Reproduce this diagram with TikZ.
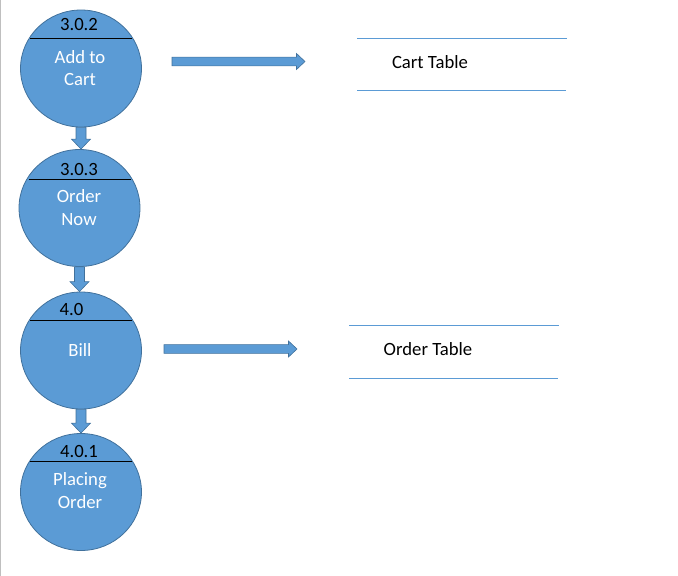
\documentclass[tikz,border=0pt]{standalone}
\usepackage{fontspec}
\setmainfont{Carlito}
\usetikzlibrary{shapes.geometric,calc}
\definecolor{procfill}{HTML}{5B9BD5}
\definecolor{procline}{HTML}{41719C}
\newcommand\dfdDown[2]{%
  \filldraw[blockarrow] ($(#1.south)+(-5,0)$) -- ($(#1.south |- #2.north)+(-5,-10)$) -- ($(#1.south |- #2.north)+(-9.5,-10)$) -- (#1.south |- #2.north) -- ($(#1.south |- #2.north)+(9.5,-10)$) -- ($(#1.south |- #2.north)+(5,-10)$) -- ($(#1.south)+(5,0)$) -- cycle;}
\newcommand\dfdRight[2]{%
  \filldraw[blockarrow] ($(#1)+(0,-4.4)$) -- ($(#2)+(-8.5,-4.4)$) -- ($(#2)+(-8.5,-8)$) -- (#2) -- ($(#2)+(-8.5,8)$) -- ($(#2)+(-8.5,4.4)$) -- ($(#1)+(0,4.4)$) -- cycle;}
\begin{document}
\begin{tikzpicture}[x=1pt,y=-1pt,
  proc/.style={ellipse,fill=procfill,draw=procline,line width=0.8pt,minimum width=121pt,minimum height=117pt,inner sep=0pt},
  ptext/.style={text=white,font=\fontsize{18.7}{22.7}\selectfont,align=center,inner sep=0pt},
  pid/.style={text=black,font=\fontsize{18.7}{22.7}\selectfont,anchor=base,inner sep=0pt},
  divider/.style={black,line width=1pt},
  blockarrow/.style={fill=procfill,draw=procline,line width=0.6pt},
  storeline/.style={draw=procfill,line width=0.8pt},
  stext/.style={font=\fontsize{18.7}{22.7}\selectfont,anchor=base,inner sep=0pt}]
\useasboundingbox (0,0) rectangle (678,576);
\draw[black!25,line width=1pt] (0.5,0) -- (0.5,576);

% processes
\node[proc] (add) at (81,68.5) {};
\node[proc] (order) at (79.5,208) {};
\node[proc] (bill) at (81,350.5) {};
\node[proc] (place) at (81,492) {};

\draw[divider] ($(add.center)+(-51,-30)$) -- ($(add.center)+(51,-30)$);
\draw[divider] ($(order.center)+(-51,-28.7)$) -- ($(order.center)+(51,-28.7)$);
\draw[divider] ($(bill.center)+(-51,-30)$) -- ($(bill.center)+(51,-30)$);
\draw[divider] ($(place.center)+(-51,-31)$) -- ($(place.center)+(51,-31)$);

\node[pid] (addid) at (79,30.7) {3.0.2};
\node[ptext] (addtx) at (80,68) {Add to\\Cart};
\node[pid] (orderid) at (79,175) {3.0.3};
\node[ptext] (ordertx) at (79,207.5) {Order\\Now};
\node[pid] (billid) at (71.5,315.7) {4.0};
\node[pid,text=white] (billtx) at (80,356.7) {Bill};
\node[pid] (placeid) at (79,457.7) {4.0.1};
\node[ptext] (placetx) at (80,490.5) {Placing\\Order};

% flow arrows
\dfdDown{add}{order}
\dfdDown{order}{bill}
\dfdDown{bill}{place}

\coordinate (c1s) at (172,61.5);
\coordinate (c1e) at (305,61.5);
\coordinate (c2s) at (164,349);
\coordinate (c2e) at (297,349);
\dfdRight{c1s}{c1e}
\dfdRight{c2s}{c2e}

% data stores
\draw[storeline] (357,38.3) -- (567,38.3);
\draw[storeline] (357,90.7) -- (566,90.7);
\node[stext] (cart) at (430,68.3) {Cart Table};
\draw[storeline] (349,325) -- (559,325);
\draw[storeline] (349,378) -- (558,378);
\node[stext] (ordt) at (428,355.3) {Order Table};
\end{tikzpicture}
\end{document}
